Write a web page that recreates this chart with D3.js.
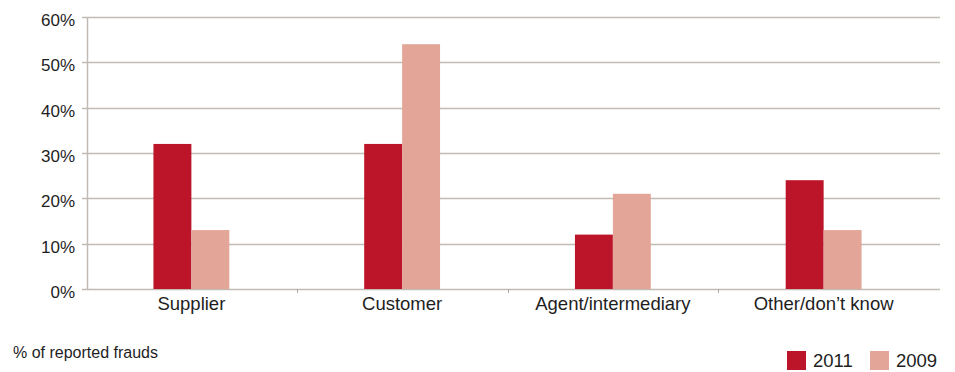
<!DOCTYPE html>
<html>
<head>
<meta charset="utf-8">
<script src="https://cdn.jsdelivr.net/npm/d3@7"></script>
<style>
  html, body { margin: 0; padding: 0; background: #fff; }
  svg { display: block; font-family: "Liberation Sans", Arial, Helvetica, sans-serif; }
</style>
</head>
<body>
<svg id="chart" width="955" height="372"></svg>
<script>
// Perpetrator type of reported frauds, 2011 vs 2009 (% of reported frauds)
const categories = ["Supplier", "Customer", "Agent/intermediary", "Other/don\u2019t know"];
const seriesNames = ["2011", "2009"];
const values2011 = [32, 32, 12, 24];
const values2009 = [13, 54, 21, 13];
const yTicks = [0, 10, 20, 30, 40, 50, 60];
const colors = { "2011": "#bc1428", "2009": "#e3a598" };

const svg = d3.select("#chart");
const plotLeft = 87, plotTop = 17, plotBottom = 289, gridRight = 940;

const x0 = d3.scaleBand()
  .domain(categories)
  .range([86, 929])
  .paddingInner(0.64)
  .paddingOuter(0.32);

const x1 = d3.scaleBand()
  .domain(seriesNames)
  .range([0, x0.bandwidth()]);

const y = d3.scaleLinear().domain([0, 60]).range([plotBottom, plotTop]);

// horizontal gridlines with short ticks left of the axis
svg.append("g").selectAll("line")
  .data(yTicks)
  .join("line")
  .attr("x1", plotLeft - 5)
  .attr("x2", gridRight)
  .attr("y1", d => Math.round(y(d)) + 0.5)
  .attr("y2", d => Math.round(y(d)) + 0.5)
  .attr("stroke", "#c2bbb4")
  .attr("stroke-width", 1.5);

// y tick labels
svg.append("g").selectAll("text")
  .data(yTicks)
  .join("text")
  .attr("x", 75)
  .attr("y", d => y(d) + 9)
  .attr("text-anchor", "end")
  .attr("font-size", "17px")
  .attr("fill", "#1e1e1e")
  .text(d => d + "%");

// vertical axis line
svg.append("line")
  .attr("x1", plotLeft + 0.5).attr("x2", plotLeft + 0.5)
  .attr("y1", y(60)).attr("y2", y(0))
  .attr("stroke", "#c2bbb4")
  .attr("stroke-width", 1.5);

// category separators on the baseline
const step = x0.step();
svg.append("g").selectAll("line")
  .data(categories.slice(1))
  .join("line")
  .attr("x1", d => Math.round(x0(d) - (step - x0.bandwidth()) / 2) + 0.5)
  .attr("x2", d => Math.round(x0(d) - (step - x0.bandwidth()) / 2) + 0.5)
  .attr("y1", plotBottom)
  .attr("y2", plotBottom + 4)
  .attr("stroke", "#b0a8a0")
  .attr("stroke-width", 1);

// bars
const rows = categories.map((c, i) => ({ cat: c, vals: { "2011": values2011[i], "2009": values2009[i] } }));
svg.append("g").selectAll("g")
  .data(rows)
  .join("g")
  .attr("transform", d => `translate(${x0(d.cat)},0)`)
  .selectAll("rect")
  .data(d => seriesNames.map(s => ({ s, v: d.vals[s] })))
  .join("rect")
  .attr("x", d => x1(d.s))
  .attr("width", x1.bandwidth())
  .attr("y", d => y(d.v))
  .attr("height", d => y(0) - y(d.v))
  .attr("fill", d => colors[d.s]);

// category labels
svg.append("g").selectAll("text")
  .data(categories)
  .join("text")
  .attr("x", d => x0(d) + x0.bandwidth() / 2)
  .attr("y", 310)
  .attr("text-anchor", "middle")
  .attr("font-size", "18.5px")
  .attr("fill", "#1e1e1e")
  .text(d => d);

// footnote
svg.append("text")
  .attr("x", 13)
  .attr("y", 358)
  .attr("font-size", "16px")
  .attr("fill", "#1e1e1e")
  .text("% of reported frauds");

// legend
const legendX = [787, 870];
const legend = svg.append("g").selectAll("g")
  .data(seriesNames)
  .join("g")
  .attr("transform", (d, i) => `translate(${legendX[i]},351)`);
legend.append("rect")
  .attr("width", 19).attr("height", 19)
  .attr("fill", d => colors[d]);
legend.append("text")
  .attr("x", 26).attr("y", 16)
  .attr("font-size", "18.5px")
  .attr("fill", "#1e1e1e")
  .text(d => d);
</script>
</body>
</html>
